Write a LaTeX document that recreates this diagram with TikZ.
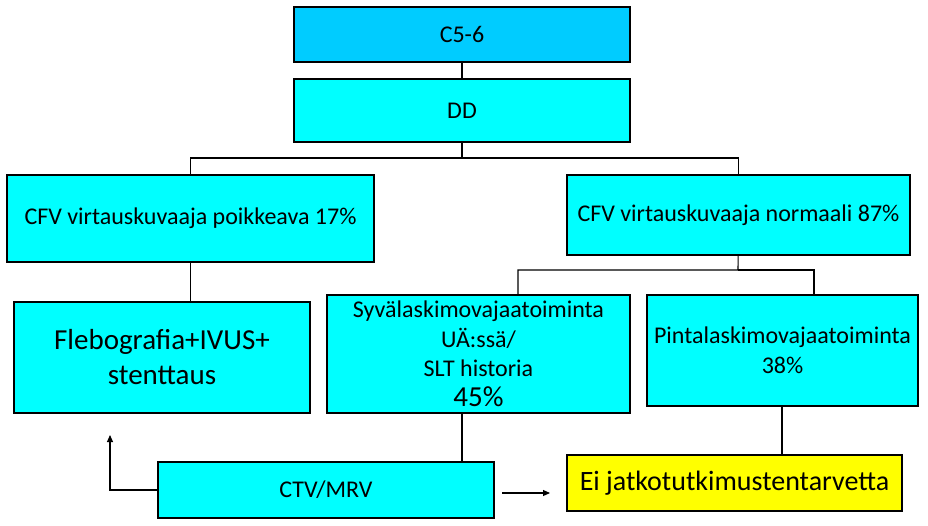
\documentclass[tikz,border=0pt]{standalone}
\usepackage{fontspec}
\setmainfont{Carlito}
\usetikzlibrary{arrows.meta}
\definecolor{topblue}{HTML}{00CCFF}
\definecolor{cy}{HTML}{00FFFF}
\definecolor{yel}{HTML}{FFFF00}
\begin{document}
\begin{tikzpicture}[x=1pt,y=-1pt,
  box/.style={draw=black,line width=1.3pt,fill=cy,inner sep=0pt,align=center,font=\fontsize{24}{29}\selectfont},
  conn/.style={line width=1.1pt},
  arr/.style={line width=1.1pt,-{Triangle[width=6pt,length=7pt]}}]
\useasboundingbox (0,0) rectangle (928,526);
\node[box,fill=topblue,minimum width=336pt,minimum height=55pt] (c56) at (462,34.5) {C5-6};
\node[box,minimum width=336pt,minimum height=63pt] (dd) at (462,110.5) {DD};
\node[box,minimum width=367pt,minimum height=87pt] (cfvp) at (190.5,218.5) {CFV virtauskuvaaja poikkeava 17\%};
\node[box,minimum width=343pt,minimum height=80pt] (cfvn) at (738.5,215) {CFV virtauskuvaaja normaali 87\%};
\node[box,minimum width=296pt,minimum height=111pt,font=\fontsize{29}{35}\selectfont] (fleb) at (162,357.5) {Flebografia+IVUS+\\stenttaus};
\node[box,minimum width=303pt,minimum height=118pt,font=\fontsize{24}{29.5}\selectfont] (syva) at (478.5,354) {Syvälaskimovajaatoiminta\\UÄ:ssä/\\SLT historia\\{\fontsize{29}{30}\selectfont 45\%}};
\node[box,minimum width=271pt,minimum height=111pt,font=\fontsize{24}{30}\selectfont] (pinta) at (782.5,350.5) {Pintalaskimovajaatoiminta\\38\%};
\node[box,minimum width=336pt,minimum height=56pt] (ctv) at (326,490) {CTV/MRV};
\node[box,fill=yel,minimum width=335pt,minimum height=56pt,font=\fontsize{28}{32}\selectfont] (ei) at (734.5,483) {Ei jatkotutkimustentarvetta};
\coordinate (b1) at (462,158);
\coordinate (b2) at (738,270);
\coordinate (s1) at (462,413);
\coordinate (p1) at (782,406);
\coordinate (at) at (110,435);
\coordinate (ar1) at (502,493);
\coordinate (ar2) at (550,493);
\draw[conn] (c56) -- (dd);
\draw[conn] (dd) -- (b1) -| (cfvp);
\draw[conn] (b1) -| (cfvn);
\draw[conn] (cfvp) -- (cfvp.center |- fleb.north);
\draw[conn] (cfvn) -- (b2) -| (518,295);
\draw[conn] (b2) -| (814,295);
\draw[conn] (s1) -- (s1 |- ctv.north);
\draw[conn] (p1) -- (p1 |- ei.north);
\draw[arr] (ctv.west) -| (at);
\draw[arr] (ar1) -- (ar2);
\end{tikzpicture}
\end{document}
